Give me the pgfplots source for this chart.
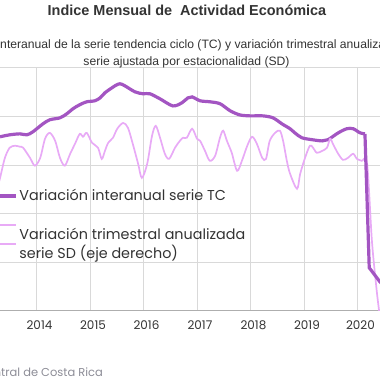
\documentclass[border=0pt]{standalone}
\usepackage{pgfplots}
\pgfplotsset{compat=1.18}
\usepackage{fontspec}
\setmainfont{Liberation Sans}
\newfontfamily\pop{Poppins}
\definecolor{tc}{RGB}{163,85,194}
\definecolor{sd}{RGB}{232,170,246}
\definecolor{gridc}{RGB}{217,217,217}
\definecolor{txt}{RGB}{51,51,51}
\definecolor{foot}{RGB}{140,140,150}
\pgfplotsset{sdimg/.style={legend image code/.code={\draw[##1] (0bp,0bp) -- (20bp,0bp); \path (0bp,19bp) -- (20bp,19bp);}}}
\begin{document}
\begin{tikzpicture}
\useasboundingbox (0bp,0bp) rectangle (380bp,380bp);
\clip (0bp,0bp) rectangle (380bp,380bp);
\begin{axis}[
  at={(-16.5bp,69bp)}, anchor=south west,
  scale only axis, width=406.6bp, height=243bp,
  xmin=2013, xmax=2020.6, ymin=-4, ymax=6,
  xtick={2013,...,2020}, ytick={-4,-2,...,6},
  yticklabels={},
  /pgf/number format/1000 sep={},
  /pgf/number format/assume math mode=true,
  xticklabel style={font=\pop\fontsize{12}{14}\selectfont, text=txt, xshift=2.5bp, yshift=-6bp},
  major tick length=0pt,
  grid=major, grid style={draw=gridc, line width=1bp},
  axis x line*=bottom, axis y line*=left,
  x axis line style={draw=gridc!80!black, line width=1bp},
  y axis line style={draw=none},
  clip=true,
  legend style={at={(0.026,0.509)}, anchor=north west, draw=none, fill=none,
    font=\pop\fontsize{14.4}{19}\selectfont, text=txt,
    cells={anchor=west, align=left}, row sep=20bp, inner sep=0pt},
  legend image code/.code={\draw[#1] (0bp,0bp) -- (20bp,0bp);},
]
\addplot[tc, line width=3.2bp, smooth, tension=0.5] coordinates {
(2013.31,3.17) (2013.49,3.25) (2013.68,3.29) (2013.81,3.25) (2013.92,3.37)
(2014.11,3.70) (2014.24,3.87) (2014.43,3.95) (2014.56,4.12) (2014.67,4.32)
(2014.80,4.49) (2014.93,4.61) (2015.08,4.65) (2015.18,4.77) (2015.27,4.98)
(2015.46,5.27) (2015.55,5.35) (2015.64,5.27) (2015.83,5.02) (2015.98,4.94)
(2016.11,4.94) (2016.30,4.73) (2016.54,4.44) (2016.71,4.57) (2016.82,4.77)
(2016.90,4.81) (2017.05,4.65) (2017.23,4.61) (2017.42,4.53) (2017.61,4.24)
(2017.79,4.07) (2017.98,4.03) (2018.22,4.03) (2018.41,3.95) (2018.58,3.70)
(2018.73,3.50) (2018.82,3.33) (2018.95,3.13) (2019.14,3.05) (2019.33,3.00)
(2019.44,3.05) (2019.63,3.33) (2019.79,3.50) (2019.91,3.50) (2020.04,3.33)
(2020.13,3.29)};
\addlegendentry{Variación interanual serie TC}
\addplot[sd, line width=1.7bp, smooth, tension=0.5, sdimg] coordinates {
(2013.25,1.00) (2013.31,1.48) (2013.40,2.30) (2013.49,2.72) (2013.59,2.80) (2013.68,2.76)
(2013.74,2.72) (2013.87,2.30) (2013.96,1.98) (2014.06,2.30) (2014.15,3.09)
(2014.24,3.33) (2014.34,3.00) (2014.43,2.30) (2014.52,1.98) (2014.62,2.47)
(2014.71,2.88) (2014.80,3.29) (2014.86,3.17) (2014.93,3.33) (2015.03,2.92)
(2015.14,2.72) (2015.21,2.26) (2015.27,2.59) (2015.33,2.92) (2015.42,3.13)
(2015.50,3.50) (2015.61,3.74) (2015.70,3.54) (2015.79,2.88) (2015.89,2.06)
(2015.96,1.48) (2016.06,2.06) (2016.15,3.21) (2016.22,3.62) (2016.30,3.13)
(2016.39,2.47) (2016.47,2.26) (2016.58,2.72) (2016.67,3.00) (2016.73,3.13)
(2016.80,3.13) (2016.90,3.50) (2016.99,3.09) (2017.05,3.00) (2017.14,2.59)
(2017.23,2.18) (2017.33,2.39) (2017.42,3.13) (2017.48,3.42) (2017.55,3.00)
(2017.64,2.51) (2017.74,1.77) (2017.83,2.18) (2017.93,2.80) (2018.02,3.17)
(2018.11,2.88) (2018.21,2.30) (2018.28,2.26) (2018.35,3.00) (2018.45,3.33)
(2018.54,3.42) (2018.60,3.00) (2018.67,2.18) (2018.73,1.65) (2018.86,1.03)
(2018.92,1.65) (2019.01,2.30) (2019.10,2.80) (2019.16,2.72) (2019.23,2.51)
(2019.33,2.59) (2019.42,2.72) (2019.48,3.09) (2019.53,2.88) (2019.63,2.47)
(2019.72,2.22) (2019.81,2.30) (2019.91,2.47) (2019.98,2.26) (2020.07,2.18)
(2020.17,2.06) (2020.26,-1.11) (2020.34,-2.96) (2020.39,-3.91) (2020.45,-4.81)};
\addlegendentry{Variación trimestral anualizada\\serie SD (eje derecho)}
\addplot[tc, line width=3.2bp, forget plot] coordinates {
(2020.13,3.29) (2020.21,-2.22) (2020.41,-2.80) (2020.50,-3.0)};
\end{axis}
\node[font=\bfseries\fontsize{14.5}{16}\selectfont, text=txt] at (187bp,370bp) {Indice Mensual de\ \ Actividad Económica};
\node[font=\fontsize{12.2}{14}\selectfont, text=txt] at (186.5bp,335bp) {Variación interanual de la serie tendencia ciclo (TC) y variación trimestral anualizada de la};
\node[font=\fontsize{12.2}{14}\selectfont, text=txt] at (186.5bp,318bp) {serie ajustada por estacionalidad (SD)};
\node[font=\pop\fontsize{11.5}{13}\selectfont, text=foot, anchor=east, inner sep=0pt] at (103bp,8bp) {Fuente: Banco Central de Costa Rica};
\end{tikzpicture}
\end{document}
